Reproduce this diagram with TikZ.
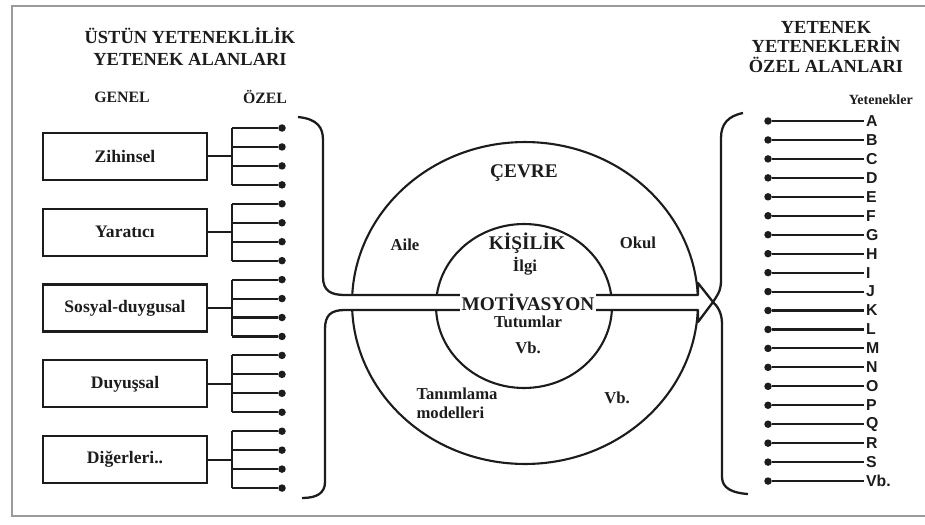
\documentclass[tikz,border=0pt]{standalone}
\usepackage{fontspec}
\setmainfont{Liberation Serif}
\setsansfont{Liberation Sans}
\usepackage{tikz}
\usetikzlibrary{positioning,calc}
\definecolor{dgInk}{HTML}{1C1C1C}
\definecolor{dgFrame}{HTML}{9A9A9A}
\tikzset{
  titlebox/.style={align=center,font=\fontsize{10.5}{12.5}\selectfont\bfseries,text=dgInk},
  headlbl/.style={font=\fontsize{9}{11}\selectfont\bfseries,text=dgInk},
  areabox/.style={rectangle,draw=dgInk,line width=1.3pt,
    minimum width=3.28cm,minimum height=0.94cm,
    font=\fontsize{10}{12}\selectfont\bfseries,text=dgInk},
  dotnode/.style={circle,fill=dgInk,inner sep=0pt,minimum size=0.15cm},
  letterlbl/.style={font=\sffamily\fontsize{9}{10}\selectfont\bfseries,
    text=dgInk,inner sep=1pt},
  ringlbl/.style={font=\fontsize{9.5}{10.8}\selectfont\bfseries,text=dgInk},
  biglbl/.style={font=\fontsize{11}{13}\selectfont\bfseries,text=dgInk},
  tline/.style={draw=dgInk,line width=1.2pt},
  ring/.style={draw=dgInk,line width=1.2pt},
  brace/.style={draw=dgInk,line width=1.3pt,line join=round},
}

\begin{document}
\begin{tikzpicture}[x=0.02cm,y=-0.02cm]
  \useasboundingbox (0,0) rectangle (925,524);
  \draw[dgFrame,line width=1pt] (925,6) -- (12,6) -- (12,516) -- (925,516);

  \node[titlebox] (ltitle) at (190,47) {ÜSTÜN YETENEKLİLİK\\YETENEK ALANLARI};
  \node[headlbl] (genel) at (122,97) {GENEL};
  \node[headlbl] (ozel) at (265,97) {ÖZEL};

  \foreach \lbl [count=\k from 0] in {Zihinsel,Yaratıcı,Sosyal-duygusal,Duyuşsal,Diğerleri..}
    \node[areabox] (g\k) at (125,{156.4+75.8*\k}) {\lbl};

  \foreach \i in {0,...,19}
    \node[dotnode] (d\i) at (282,{128+18.95*\i}) {};

  \foreach \k in {0,...,4} {
    \pgfmathtruncatemacro{\a}{4*\k}
    \pgfmathtruncatemacro{\b}{4*\k+3}
    \coordinate (t\k) at (232,{156.4+75.8*\k});
    \draw[tline] (g\k.east) -- (t\k);
    \draw[tline] (d\a -| t\k) -- (d\b -| t\k);
    \foreach \j in {0,...,3} {
      \pgfmathtruncatemacro{\n}{4*\k+\j}
      \draw[tline] (d\n -| t\k) -- (d\n);
    }
  }

  \coordinate (cv) at (525,303);
  \coordinate (kc) at (524,306);
  \draw[ring] (cv) ellipse [x radius=3.46cm,y radius=3.22cm];
  \draw[ring] (kc) ellipse [x radius=1.76cm,y radius=1.64cm];

  \fill[white] (340,295) -- (698,295) -- (698,283) -- (713,302)
    -- (698,322) -- (698,310) -- (340,310) -- cycle;
  \draw[brace] (298,117) .. controls (318,119) and (323,128) .. (323,140)
    -- (323,277) .. controls (323,291) and (331,295) .. (345,295)
    -- (698,295) -- (698,283) -- (713,302) -- (698,322) -- (698,310)
    -- (345,310) .. controls (331,310) and (325,315) .. (325,329)
    -- (325,482) .. controls (325,493) and (317,498) .. (302,498);
  \draw[brace] (743,113) .. controls (728,116) and (721,124) .. (721,138)
    -- (721,281) .. controls (721,292) and (716,297) .. (713,302)
    .. controls (717,306) and (722,312) .. (722,324)
    -- (722,477) .. controls (722,488) and (732,493) .. (748,494);

  \node[biglbl] (cevre) at (524,173) {ÇEVRE};
  \node[ringlbl] (aile) at (405,245) {Aile};
  \node[ringlbl] (okul) at (638,243) {Okul};
  \node[biglbl] (kisilik) at (527,243) {KİŞİLİK};
  \node[ringlbl] (ilgi) at (525,266) {İlgi};
  \node[biglbl,fill=white,inner sep=1pt] (motiv) at (528,302) {MOTİVASYON};
  \node[ringlbl] (tutum) at (528,322) {Tutumlar};
  \node[ringlbl] (vbin) at (528,348) {Vb.};
  \node[ringlbl,align=left] (tanim) at (457,403) {Tanımlama\\modelleri};
  \node[ringlbl] (vbout) at (617,398) {Vb.};

  \node[titlebox,font=\fontsize{10.5}{11}\selectfont\bfseries] (rtitle) at (826,47)
    {YETENEK\\YETENEKLERİN\\ÖZEL ALANLARI};
  \node[font=\fontsize{8}{10}\selectfont\bfseries,text=dgInk,anchor=east] (ytn) at (919,100) {Yetenekler};

  \foreach \c [count=\i from 0] in {A,B,C,D,E,F,G,H,I,J,K,L,M,N,O,P,Q,R,S,Vb.} {
    \node[dotnode] (r\i) at (768,{121+18.95*\i}) {};
    \node[letterlbl,anchor=west] (l\i) at (864,{121+18.95*\i}) {\c};
    \draw[tline] (r\i) -- (l\i.west);
  }
\end{tikzpicture}
\end{document}
